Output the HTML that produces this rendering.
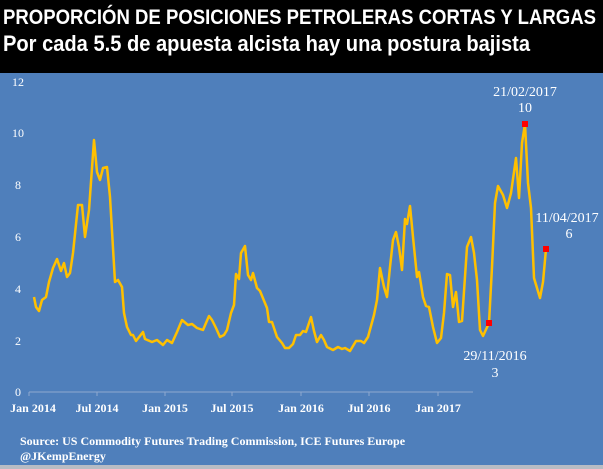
<!DOCTYPE html>
<html><head><meta charset="utf-8"><style>
html,body{margin:0;padding:0;width:603px;height:469px;overflow:hidden;background:#4f7fbb}
svg{display:block}
</style></head><body>
<svg width="603" height="469" viewBox="0 0 603 469" xmlns="http://www.w3.org/2000/svg">
<rect x="0" y="0" width="603" height="469" fill="#4f7fbb"/>
<rect x="0" y="0" width="603" height="73" fill="#000"/>
<rect x="0" y="465" width="603" height="4" fill="#b8bcc4"/>
<g font-family="Liberation Sans, sans-serif" font-weight="bold" fill="#fff" font-size="21">
<text x="3" y="24" textLength="593" lengthAdjust="spacingAndGlyphs">PROPORCIÓN DE POSICIONES PETROLERAS CORTAS Y LARGAS</text>
<text x="3" y="51" font-size="22" textLength="527" lengthAdjust="spacingAndGlyphs">Por cada 5.5  de apuesta alcista hay una postura bajista</text>
</g>
<g font-family="Liberation Serif, serif" fill="#fff" font-size="12">
<text x="12" y="86">12</text><text x="12" y="137">10</text><text x="15" y="189">8</text><text x="15" y="241">6</text><text x="15" y="293">4</text><text x="15" y="345">2</text><text x="15" y="396">0</text>
</g>
<line x1="29" y1="392" x2="473" y2="392" stroke="#8fa9cf" stroke-width="1"/>
<g stroke="#8fa9cf"><line x1="29" y1="392" x2="29" y2="396"/><line x1="97" y1="392" x2="97" y2="396"/><line x1="165" y1="392" x2="165" y2="396"/><line x1="232" y1="392" x2="232" y2="396"/><line x1="301" y1="392" x2="301" y2="396"/><line x1="369" y1="392" x2="369" y2="396"/><line x1="438" y1="392" x2="438" y2="396"/></g>
<g font-family="Liberation Serif, serif" font-weight="bold" fill="#fff" font-size="12" text-anchor="middle">
<text x="33" y="412">Jan 2014</text><text x="97" y="412">Jul 2014</text><text x="165" y="412">Jan 2015</text><text x="232" y="412">Jul 2015</text><text x="301" y="412">Jan 2016</text><text x="369" y="412">Jul 2016</text><text x="438" y="412">Jan 2017</text>
</g>
<polyline fill="none" stroke="#ffc000" stroke-width="2.5" stroke-linejoin="round" points="34,297 36,307 39,311 42,300 46,297 49,282 53,268 57,259 61,271 64,263 67,277 70,273 73,253 78,205 82,205 85,237 89,210 94,140 97,172 100,180 103,168 107,167 110,197 115,282 118,280 122,287 124,313 127,327 131,335 133,335 136,341 143,332 145,339 152,342 157,340 163,345 167,340 172,343 177,332 182,320 188,325 192,324 197,328 203,330 209,316 212,320 216,328 220,337 224,335 227,330 231,313 234,305 236,274 239,279 241,253 245,246 248,275 251,280 253,273 257,288 260,291 267,308 269,322 272,322 277,337 282,343 285,348 289,348 293,344 296,335 300,335 303,331 306,332 311,317 314,331 317,342 321,335 324,340 327,347 333,350 338,347 342,349 345,348 350,351 356,341 361,341 364,343 368,337 374,315 377,300 380,268 384,287 387,297 390,267 393,240 396,232 399,247 402,270 405,219 407,224 410,206 413,237 417,277 419,272 423,297 426,306 429,307 433,327 437,343 441,338 444,313 447,274 450,275 453,307 456,292 459,322 462,321 467,247 471,237 474,253 477,280 480,330 483,336 489,323 492,267 495,203 498,186 503,195 507,208 511,193 516,158 519,198 522,143 525,124 528,183 531,208 534,278 537,288 540,298 543,282 546,249"/>
<g fill="#ff0000"><rect x="486" y="320" width="6" height="6"/><rect x="522" y="121" width="6" height="6"/><rect x="543" y="246" width="6" height="6"/></g>
<g font-family="Liberation Serif, serif" fill="#fff" font-size="14" text-anchor="middle">
<text x="525" y="96">21/02/2017</text><text x="525" y="112">10</text>
<text x="567" y="222">11/04/2017</text><text x="569" y="238">6</text>
<text x="495" y="360">29/11/2016</text><text x="495" y="377">3</text>
</g>
<g font-family="Liberation Serif, serif" font-weight="bold" fill="#fff" font-size="12">
<text x="20" y="445">Source: US Commodity Futures Trading Commission, ICE Futures Europe</text>
<text x="20" y="460">@JKempEnergy</text>
</g>
</svg>
</body></html>
